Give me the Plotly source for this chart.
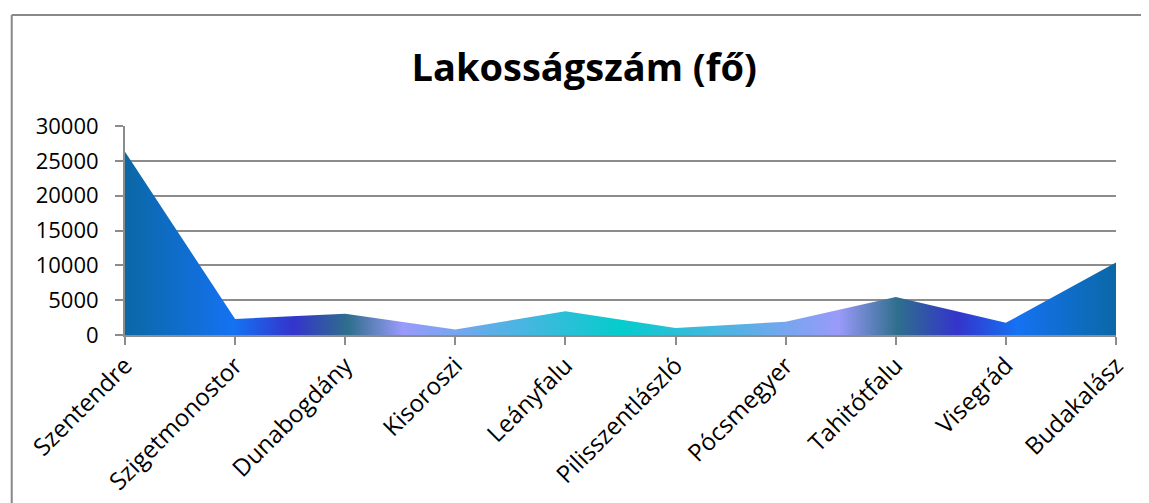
import plotly.graph_objects as go

categories = ["Szentendre", "Szigetmonostor", "Dunabogdány", "Kisoroszi", "Leányfalu",
              "Pilisszentlászló", "Pócsmegyer", "Tahitótfalu", "Visegrád", "Budakalász"]
population = [26300, 2300, 3050, 800, 3400, 1000, 1900, 5450, 1750, 10400]
y_ticks = [0, 5000, 10000, 15000, 20000, 25000, 30000]
y_tick_labels = ["0", "5000", "10000", "15000", "20000", "25000", "30000"]
title_text = "Lakosságszám (fő)"

gradient = [
    [0.0, "#0A68A6"],
    [0.11, "#1572F2"],
    [0.17, "#3434CC"],
    [0.225, "#2F6E8C"],
    [0.28, "#9A9AFA"],
    [0.5, "#05CCCC"],
    [0.72, "#9A9AFA"],
    [0.78, "#2F6E8C"],
    [0.84, "#3434CC"],
    [0.90, "#1572F2"],
    [1.0, "#0A68A6"],
]

fig = go.Figure()
fig.add_trace(go.Scatter(
    x=categories, y=population, mode="lines", fill="tozeroy",
    line=dict(width=0, color="rgba(0,0,0,0)"),
    fillgradient=dict(type="horizontal", colorscale=gradient),
    hoverinfo="skip", showlegend=False,
))

grid_col = "#8C8C8C"
font_family = "Open Sans, Lato, sans-serif"

# page body has an 8px margin; figure is sized/offset to compensate
fig.update_layout(
    width=1141, height=495,
    margin=dict(l=117, r=33, t=118, b=168, autoexpand=False),
    paper_bgcolor="white", plot_bgcolor="white",
    title=dict(text="<b>" + title_text + "</b>", x=0.505, xref="container", xanchor="center",
               y=0.879, yref="container", yanchor="middle",
               font=dict(family=font_family, size=38, color="black")),
    xaxis=dict(type="category", range=[0, 9], showgrid=False, automargin=False,
               showline=True, linecolor=grid_col, linewidth=2,
               ticks="outside", ticklen=8, tickcolor=grid_col, tickwidth=2,
               tickangle=-45, ticklabelstandoff=-3,
               tickfont=dict(family=font_family, size=24, color="black")),
    yaxis=dict(range=[0, 30000], tickvals=y_ticks, ticktext=y_tick_labels, automargin=False,
               showgrid=True, gridcolor=grid_col, gridwidth=2,
               showline=True, linecolor=grid_col, linewidth=2, zeroline=False,
               ticks="outside", ticklen=8, tickcolor=grid_col, tickwidth=2,
               ticklabelstandoff=12,
               tickfont=dict(family=font_family, size=22, color="black")),
    shapes=[
        dict(type="line", xref="paper", yref="paper", x0=-0.1143, x1=-0.1143, y0=-1.0, y1=1.531,
             line=dict(color="#888888", width=2)),
        dict(type="line", xref="paper", yref="paper", x0=-0.1143, x1=1.2, y0=1.531, y1=1.531,
             line=dict(color="#888888", width=2)),
    ],
)

fig.write_html("out.html")
